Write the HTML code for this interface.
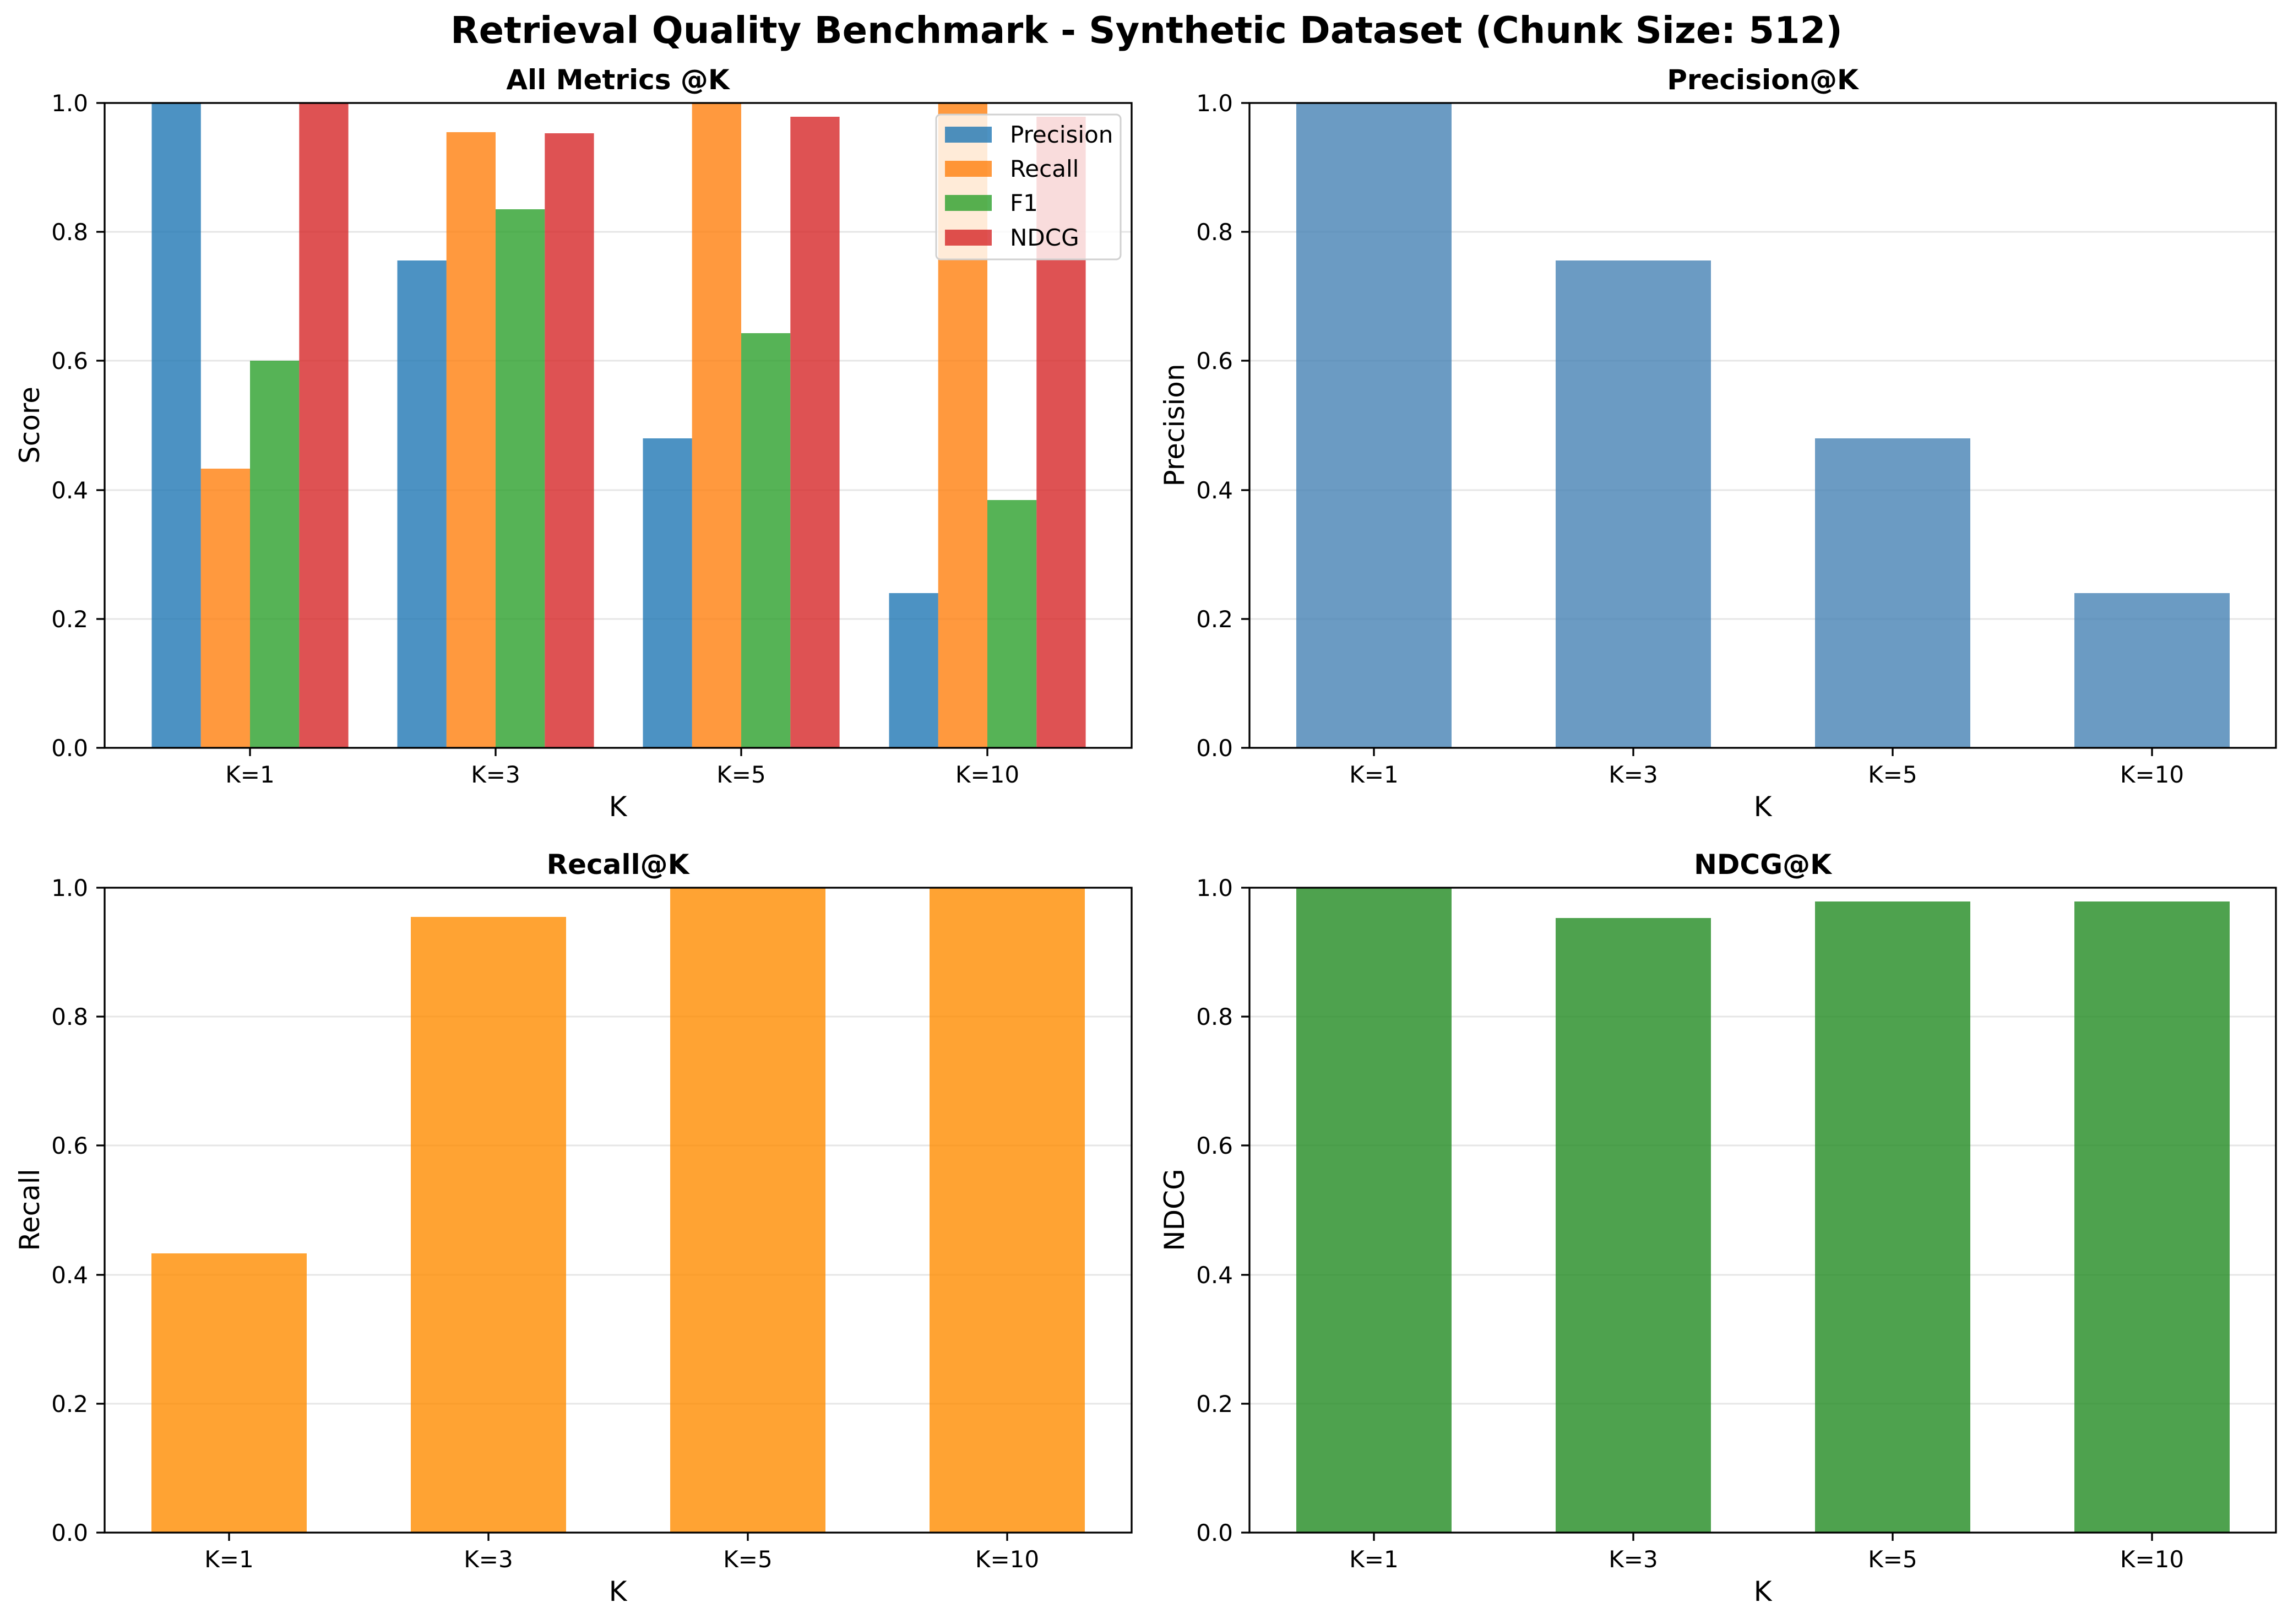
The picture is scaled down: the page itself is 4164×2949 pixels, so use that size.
<!DOCTYPE html>
<html><head><meta charset="utf-8"><style>
html,body{margin:0;padding:0;background:#fff}
svg{display:block}
text{font-family:"DejaVu Sans","Liberation Sans",sans-serif;fill:#000}
.t{font-size:42px}
.yl text{text-anchor:end}
.xl text{text-anchor:middle}
.lab{font-size:50px;text-anchor:middle}
.ttl{font-size:50px;font-weight:bold;text-anchor:middle}
</style></head><body>
<svg width="4164" height="2949" viewBox="0 0 4164 2949" xmlns="http://www.w3.org/2000/svg">
<rect width="4164" height="2949" fill="#fff"/>
<text x="2082" y="78" style="font-size:67px;font-weight:bold" text-anchor="middle">Retrieval Quality Benchmark - Synthetic Dataset (Chunk Size: 512)</text>

<!-- Panel TL -->
<g>
<g stroke="#e6e6e6" stroke-width="3">
<line x1="190" x2="2055" y1="1124" y2="1124"/><line x1="190" x2="2055" y1="890" y2="890"/><line x1="190" x2="2055" y1="655" y2="655"/><line x1="190" x2="2055" y1="421" y2="421"/>
</g>
<g fill="#1f77b4" fill-opacity="0.8">
<rect x="275.5" y="187" width="89.3" height="1171"/><rect x="721.5" y="473" width="89.3" height="885"/><rect x="1167.5" y="796" width="89.3" height="562"/><rect x="1614.5" y="1077" width="89.3" height="281"/>
</g>
<g fill="#ff7f0e" fill-opacity="0.8">
<rect x="364.7" y="851" width="89.3" height="507"/><rect x="810.7" y="240" width="89.3" height="1118"/><rect x="1256.7" y="187" width="89.3" height="1171"/><rect x="1703.7" y="187" width="89.3" height="1171"/>
</g>
<g fill="#2ca02c" fill-opacity="0.8">
<rect x="454" y="655" width="89.3" height="703"/><rect x="900" y="380" width="89.3" height="978"/><rect x="1346" y="605" width="89.3" height="753"/><rect x="1793" y="908" width="89.3" height="450"/>
</g>
<g fill="#d62728" fill-opacity="0.8">
<rect x="543.3" y="187" width="89.3" height="1171"/><rect x="989.3" y="242" width="89.3" height="1116"/><rect x="1435.3" y="212" width="89.3" height="1146"/><rect x="1882.3" y="212" width="89.3" height="1146"/>
</g>
<rect x="190" y="187" width="1865" height="1171" fill="none" stroke="#000" stroke-width="3.3"/>
<g stroke="#000" stroke-width="3.3">
<line x1="190" x2="175" y1="1358" y2="1358"/><line x1="190" x2="175" y1="1124" y2="1124"/><line x1="190" x2="175" y1="890" y2="890"/><line x1="190" x2="175" y1="655" y2="655"/><line x1="190" x2="175" y1="421" y2="421"/><line x1="190" x2="175" y1="187" y2="187"/>
<line x1="454" x2="454" y1="1358" y2="1373"/><line x1="900" x2="900" y1="1358" y2="1373"/><line x1="1346" x2="1346" y1="1358" y2="1373"/><line x1="1793" x2="1793" y1="1358" y2="1373"/>
</g>
<g class="t yl"><text x="160" y="1373">0.0</text><text x="160" y="1139">0.2</text><text x="160" y="905">0.4</text><text x="160" y="670">0.6</text><text x="160" y="436">0.8</text><text x="160" y="202">1.0</text></g>
<g class="t xl"><text x="454" y="1421">K=1</text><text x="900" y="1421">K=3</text><text x="1346" y="1421">K=5</text><text x="1793" y="1421">K=10</text></g>
<text class="lab" x="1122" y="1482">K</text>
<text class="lab" transform="translate(71,772) rotate(-90)">Score</text>
<text class="ttl" x="1122" y="162">All Metrics @K</text>
<rect x="1700" y="208" width="335" height="263" rx="8" fill="#fff" fill-opacity="0.8" stroke="#d0d0d0" stroke-width="3"/>
<rect x="1716" y="230" width="85" height="29" fill="#1f77b4" fill-opacity="0.8"/>
<rect x="1716" y="292" width="85" height="29" fill="#ff7f0e" fill-opacity="0.8"/>
<rect x="1716" y="354" width="85" height="29" fill="#2ca02c" fill-opacity="0.8"/>
<rect x="1716" y="417" width="85" height="29" fill="#d62728" fill-opacity="0.8"/>
<g class="t"><text x="1834" y="259">Precision</text><text x="1834" y="321">Recall</text><text x="1834" y="383">F1</text><text x="1834" y="446">NDCG</text></g>
</g>

<!-- Panel TR -->
<g>
<g stroke="#e6e6e6" stroke-width="3">
<line x1="2269" x2="4133" y1="1124" y2="1124"/><line x1="2269" x2="4133" y1="890" y2="890"/><line x1="2269" x2="4133" y1="655" y2="655"/><line x1="2269" x2="4133" y1="421" y2="421"/>
</g>
<g fill="#4682b4" fill-opacity="0.8">
<rect x="2354" y="187" width="282" height="1171"/><rect x="2825" y="473" width="282" height="885"/><rect x="3296" y="796" width="282" height="562"/><rect x="3767" y="1077" width="282" height="281"/>
</g>
<rect x="2269" y="187" width="1864" height="1171" fill="none" stroke="#000" stroke-width="3.3"/>
<g stroke="#000" stroke-width="3.3">
<line x1="2269" x2="2254" y1="1358" y2="1358"/><line x1="2269" x2="2254" y1="1124" y2="1124"/><line x1="2269" x2="2254" y1="890" y2="890"/><line x1="2269" x2="2254" y1="655" y2="655"/><line x1="2269" x2="2254" y1="421" y2="421"/><line x1="2269" x2="2254" y1="187" y2="187"/>
<line x1="2495" x2="2495" y1="1358" y2="1373"/><line x1="2966" x2="2966" y1="1358" y2="1373"/><line x1="3437" x2="3437" y1="1358" y2="1373"/><line x1="3908" x2="3908" y1="1358" y2="1373"/>
</g>
<g class="t yl"><text x="2239" y="1373">0.0</text><text x="2239" y="1139">0.2</text><text x="2239" y="905">0.4</text><text x="2239" y="670">0.6</text><text x="2239" y="436">0.8</text><text x="2239" y="202">1.0</text></g>
<g class="t xl"><text x="2495" y="1421">K=1</text><text x="2966" y="1421">K=3</text><text x="3437" y="1421">K=5</text><text x="3908" y="1421">K=10</text></g>
<text class="lab" x="3201" y="1482">K</text>
<text class="lab" transform="translate(2150,772) rotate(-90)">Precision</text>
<text class="ttl" x="3201" y="162">Precision@K</text>
</g>

<!-- Panel BL -->
<g>
<g stroke="#e6e6e6" stroke-width="3">
<line x1="190" x2="2055" y1="2549" y2="2549"/><line x1="190" x2="2055" y1="2315" y2="2315"/><line x1="190" x2="2055" y1="2080" y2="2080"/><line x1="190" x2="2055" y1="1846" y2="1846"/>
</g>
<g fill="#ff8c00" fill-opacity="0.8">
<rect x="275" y="2276" width="282" height="507"/><rect x="746" y="1665" width="282" height="1118"/><rect x="1217" y="1612" width="282" height="1171"/><rect x="1688" y="1612" width="282" height="1171"/>
</g>
<rect x="190" y="1612" width="1865" height="1171" fill="none" stroke="#000" stroke-width="3.3"/>
<g stroke="#000" stroke-width="3.3">
<line x1="190" x2="175" y1="2783" y2="2783"/><line x1="190" x2="175" y1="2549" y2="2549"/><line x1="190" x2="175" y1="2315" y2="2315"/><line x1="190" x2="175" y1="2080" y2="2080"/><line x1="190" x2="175" y1="1846" y2="1846"/><line x1="190" x2="175" y1="1612" y2="1612"/>
<line x1="416" x2="416" y1="2783" y2="2798"/><line x1="887" x2="887" y1="2783" y2="2798"/><line x1="1358" x2="1358" y1="2783" y2="2798"/><line x1="1829" x2="1829" y1="2783" y2="2798"/>
</g>
<g class="t yl"><text x="160" y="2798">0.0</text><text x="160" y="2564">0.2</text><text x="160" y="2330">0.4</text><text x="160" y="2095">0.6</text><text x="160" y="1861">0.8</text><text x="160" y="1627">1.0</text></g>
<g class="t xl"><text x="416" y="2846">K=1</text><text x="887" y="2846">K=3</text><text x="1358" y="2846">K=5</text><text x="1829" y="2846">K=10</text></g>
<text class="lab" x="1122" y="2907">K</text>
<text class="lab" transform="translate(71,2197) rotate(-90)">Recall</text>
<text class="ttl" x="1122" y="1587">Recall@K</text>
</g>

<!-- Panel BR -->
<g>
<g stroke="#e6e6e6" stroke-width="3">
<line x1="2269" x2="4133" y1="2549" y2="2549"/><line x1="2269" x2="4133" y1="2315" y2="2315"/><line x1="2269" x2="4133" y1="2080" y2="2080"/><line x1="2269" x2="4133" y1="1846" y2="1846"/>
</g>
<g fill="#228b22" fill-opacity="0.8">
<rect x="2354" y="1612" width="282" height="1171"/><rect x="2825" y="1667" width="282" height="1116"/><rect x="3296" y="1637" width="282" height="1146"/><rect x="3767" y="1637" width="282" height="1146"/>
</g>
<rect x="2269" y="1612" width="1864" height="1171" fill="none" stroke="#000" stroke-width="3.3"/>
<g stroke="#000" stroke-width="3.3">
<line x1="2269" x2="2254" y1="2783" y2="2783"/><line x1="2269" x2="2254" y1="2549" y2="2549"/><line x1="2269" x2="2254" y1="2315" y2="2315"/><line x1="2269" x2="2254" y1="2080" y2="2080"/><line x1="2269" x2="2254" y1="1846" y2="1846"/><line x1="2269" x2="2254" y1="1612" y2="1612"/>
<line x1="2495" x2="2495" y1="2783" y2="2798"/><line x1="2966" x2="2966" y1="2783" y2="2798"/><line x1="3437" x2="3437" y1="2783" y2="2798"/><line x1="3908" x2="3908" y1="2783" y2="2798"/>
</g>
<g class="t yl"><text x="2239" y="2798">0.0</text><text x="2239" y="2564">0.2</text><text x="2239" y="2330">0.4</text><text x="2239" y="2095">0.6</text><text x="2239" y="1861">0.8</text><text x="2239" y="1627">1.0</text></g>
<g class="t xl"><text x="2495" y="2846">K=1</text><text x="2966" y="2846">K=3</text><text x="3437" y="2846">K=5</text><text x="3908" y="2846">K=10</text></g>
<text class="lab" x="3201" y="2907">K</text>
<text class="lab" transform="translate(2150,2197) rotate(-90)">NDCG</text>
<text class="ttl" x="3201" y="1587">NDCG@K</text>
</g>
</svg>
</body></html>
